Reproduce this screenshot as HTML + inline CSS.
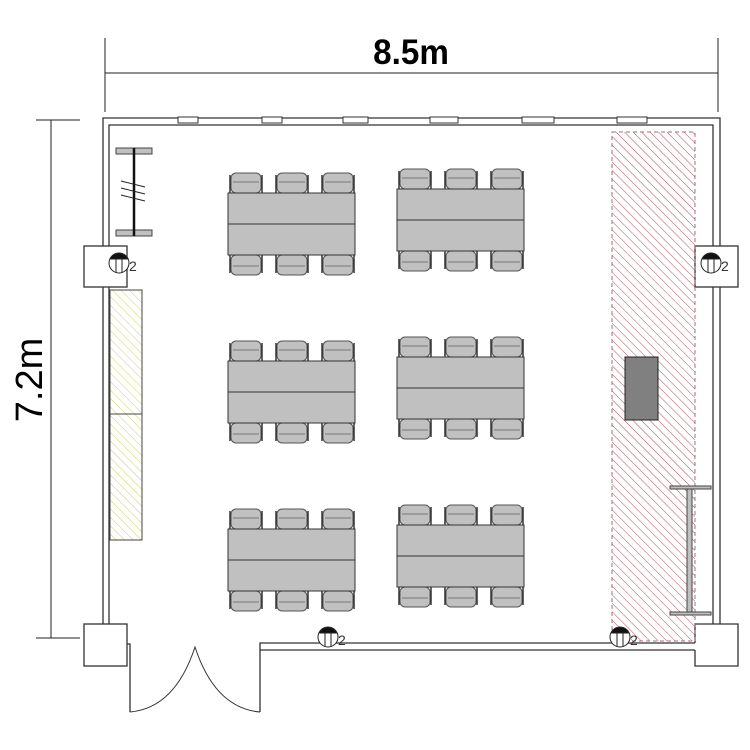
<!DOCTYPE html>
<html><head><meta charset="utf-8"><style>html,body{margin:0;padding:0;background:#fff}svg{display:block}</style></head>
<body>
<svg width="750" height="750" viewBox="0 0 750 750" xmlns="http://www.w3.org/2000/svg">
<defs>
<pattern id="red" patternUnits="userSpaceOnUse" width="6" height="6" patternTransform="rotate(-45)">
<line x1="0" y1="0" x2="0" y2="6" stroke="#b05060" stroke-width="1"/></pattern>
<pattern id="yel" patternUnits="userSpaceOnUse" width="6" height="6" patternTransform="rotate(-45)">
<line x1="0" y1="0" x2="0" y2="6" stroke="#d0d060" stroke-width="1"/></pattern>
<g id="chairT">
<rect x="1" y="0" width="30" height="20" rx="5" fill="#c0c0c0" stroke="#555" stroke-width="1"/>
<line x1="0" y1="2" x2="0" y2="20" stroke="#333" stroke-width="1.5"/>
<line x1="32" y1="2" x2="32" y2="20" stroke="#333" stroke-width="1.5"/>
<line x1="3" y1="9" x2="29" y2="9" stroke="#777" stroke-width="1"/>
</g>
<g id="chairB">
<rect x="1" y="0" width="30" height="20" rx="5" fill="#c0c0c0" stroke="#555" stroke-width="1"/>
<line x1="0" y1="0" x2="0" y2="18" stroke="#333" stroke-width="1.5"/>
<line x1="32" y1="0" x2="32" y2="18" stroke="#333" stroke-width="1.5"/>
<line x1="3" y1="11" x2="29" y2="11" stroke="#777" stroke-width="1"/>
</g>
<g id="set">
<use href="#chairT" x="2" y="-20"/><use href="#chairT" x="48" y="-20"/><use href="#chairT" x="94" y="-20"/>
<use href="#chairB" x="2" y="62"/><use href="#chairB" x="48" y="62"/><use href="#chairB" x="94" y="62"/>
<rect x="0" y="0" width="127" height="62" fill="#c0c0c0" stroke="#333" stroke-width="1"/>
<line x1="0" y1="31" x2="127" y2="31" stroke="#333" stroke-width="1"/>
</g>
<g id="sym">
<circle cx="0" cy="0" r="10" fill="#fff" stroke="#222" stroke-width="1"/>
<path d="M-9,-4 A10,10 0 0 1 9,-4 Z" fill="#111"/>
<line x1="-3" y1="-4" x2="-3" y2="10" stroke="#222"/><line x1="3" y1="-4" x2="3" y2="10" stroke="#222"/>
<line x1="-9" y1="-4" x2="9" y2="-4" stroke="#222"/>
<text x="10" y="8" font-family="Liberation Sans, sans-serif" font-size="14" fill="#333">2</text>
</g>
</defs>

<!-- dimensions -->
<line x1="105" y1="38" x2="105" y2="112" stroke="#222"/>
<line x1="718" y1="38" x2="718" y2="112" stroke="#222"/>
<line x1="105" y1="73" x2="718" y2="73" stroke="#222"/>
<text x="411" y="64" text-anchor="middle" font-family="Liberation Sans Narrow, Liberation Sans, sans-serif" font-weight="bold" font-size="35" transform="translate(411 0) scale(0.95 1) translate(-411 0)" fill="#000">8.5m</text>
<line x1="51" y1="120" x2="51" y2="638" stroke="#222"/>
<line x1="36" y1="120" x2="80" y2="120" stroke="#222"/>
<line x1="36" y1="638" x2="80" y2="638" stroke="#222"/>
<text x="0" y="0" transform="translate(42 380) rotate(-90)" text-anchor="middle" font-family="Liberation Sans, sans-serif" font-size="38" fill="#000">7.2m</text>

<!-- walls -->
<g fill="none" stroke="#333" stroke-width="1.3">
<path d="M103,246 V118 H720 V246"/>
<path d="M109,246 V125 H713 V246"/>
<path d="M103,287 V624"/><path d="M109,287 V624"/>
<path d="M713,287 V624"/><path d="M720,287 V624"/>
<rect x="84" y="246" width="43" height="41" fill="#fff"/>
<rect x="695" y="246" width="43" height="41" fill="#fff"/>
<rect x="84" y="624" width="43" height="42" fill="#fff"/>
<path d="M695,643 V624 H738 V666 H695 V650"/>
<path d="M260,712 V643 H695"/><path d="M260,650 H695"/>
<path d="M127,644 H130 V712"/>
<path d="M130,712 Q175,708 195,647 Q215,708 260,712" stroke-width="1"/>
</g>
<!-- window marks on top wall -->
<g stroke="#333" stroke-width="1" fill="#fff">
<rect x="178" y="117" width="20" height="6"/><rect x="262" y="117" width="20" height="6"/>
<rect x="343" y="117" width="25" height="6"/><rect x="430" y="117" width="28" height="6"/>
<rect x="522" y="117" width="32" height="6"/><rect x="617" y="117" width="30" height="6"/>
</g>

<!-- left screen -->
<rect x="116" y="148" width="36" height="6" fill="#c0c0c0" stroke="#444"/>
<rect x="116" y="230" width="36" height="6" fill="#c0c0c0" stroke="#444"/>
<line x1="134" y1="148" x2="134" y2="236" stroke="#111" stroke-width="2.5"/>
<g stroke="#222" stroke-width="1"><line x1="121" y1="181" x2="145" y2="187"/><line x1="121" y1="188" x2="145" y2="194"/><line x1="121" y1="195" x2="145" y2="201"/></g>

<!-- yellow -->
<rect x="110" y="290" width="32" height="250" fill="url(#yel)" stroke="#444"/>
<line x1="110" y1="414" x2="142" y2="414" stroke="#444"/>

<!-- red -->
<rect x="612" y="132" width="83" height="509" fill="url(#red)" stroke="#a07080" stroke-dasharray="4 3"/>
<rect x="625" y="357" width="33" height="63" fill="#808080" stroke="#222"/>
<rect x="670" y="486" width="41" height="3" fill="#c0c0c0" stroke="#444"/>
<rect x="670" y="612" width="41" height="3" fill="#c0c0c0" stroke="#444"/>
<rect x="687" y="489" width="5" height="123" fill="#c0c0c0" stroke="#444"/>

<!-- tables -->
<use href="#set" x="228" y="193"/>
<use href="#set" x="397" y="189"/>
<use href="#set" x="228" y="361"/>
<use href="#set" x="397" y="357"/>
<use href="#set" x="228" y="529"/>
<use href="#set" x="397" y="525"/>

<!-- symbols -->
<use href="#sym" x="119" y="263"/>
<use href="#sym" x="711" y="263"/>
<use href="#sym" x="328" y="637"/>
<use href="#sym" x="620" y="637"/>
</svg>
</body></html>
